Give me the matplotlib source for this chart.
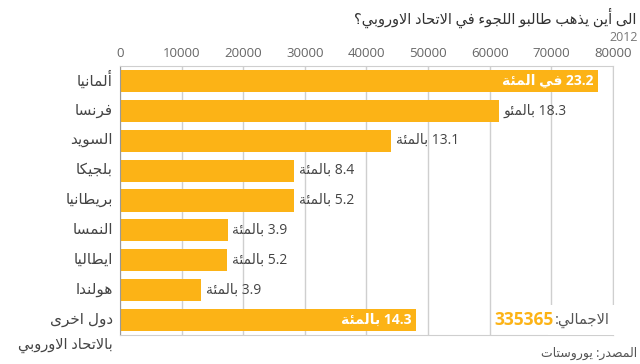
import matplotlib
matplotlib.use('Agg')
import matplotlib.pyplot as plt
from matplotlib import transforms

plt.rcParams['font.family'] = ['Open Sans', 'DejaVu Sans']

# data
countries = ['ألمانيا', 'فرنسا', 'السويد', 'بلجيكا', 'بريطانيا',
             'النمسا', 'ايطاليا', 'هولندا', 'دول اخرى']
applications = [77540, 61440, 43945, 28285, 28260, 17450, 17350, 13100, 47995]
shares = ['23.2', '18.3', '13.1', '8.4', '5.2', '3.9', '5.2', '3.9', '14.3']
share_words = ['في المئة', 'بالمئو', 'بالمئة', 'بالمئة', 'بالمئة',
               'بالمئة', 'بالمئة', 'بالمئة', 'بالمئة']
xticks = [0, 10000, 20000, 30000, 40000, 50000, 60000, 70000, 80000]
total = '335365'

title = 'الى أين يذهب طالبو اللجوء في الاتحاد الاوروبي؟'
subtitle = '2012'
source = 'المصدر: يوروستات'
others_line2 = 'بالاتحاد الاوروبي'
total_word = 'الاجمالي:'

# matplotlib has no arabic shaping -> map letters to presentation forms
# (isolated, final, initial, medial) and reverse to visual order
FORMS = {
    0x0621: [0xFE80],
    0x0623: [0xFE83, 0xFE84],
    0x0626: [0xFE89, 0xFE8A, 0xFE8B, 0xFE8C],
    0x0627: [0xFE8D, 0xFE8E],
    0x0628: [0xFE8F, 0xFE90, 0xFE91, 0xFE92],
    0x0629: [0xFE93, 0xFE94],
    0x062A: [0xFE95, 0xFE96, 0xFE97, 0xFE98],
    0x062C: [0xFE9D, 0xFE9E, 0xFE9F, 0xFEA0],
    0x062D: [0xFEA1, 0xFEA2, 0xFEA3, 0xFEA4],
    0x062E: [0xFEA5, 0xFEA6, 0xFEA7, 0xFEA8],
    0x062F: [0xFEA9, 0xFEAA],
    0x0630: [0xFEAB, 0xFEAC],
    0x0631: [0xFEAD, 0xFEAE],
    0x0633: [0xFEB1, 0xFEB2, 0xFEB3, 0xFEB4],
    0x0635: [0xFEB9, 0xFEBA, 0xFEBB, 0xFEBC],
    0x0637: [0xFEC1, 0xFEC2, 0xFEC3, 0xFEC4],
    0x0641: [0xFED1, 0xFED2, 0xFED3, 0xFED4],
    0x0643: [0xFED9, 0xFEDA, 0xFEDB, 0xFEDC],
    0x0644: [0xFEDD, 0xFEDE, 0xFEDF, 0xFEE0],
    0x0645: [0xFEE1, 0xFEE2, 0xFEE3, 0xFEE4],
    0x0646: [0xFEE5, 0xFEE6, 0xFEE7, 0xFEE8],
    0x0647: [0xFEE9, 0xFEEA, 0xFEEB, 0xFEEC],
    0x0648: [0xFEED, 0xFEEE],
    0x0649: [0xFEEF, 0xFEF0],
    0x064A: [0xFEF1, 0xFEF2, 0xFEF3, 0xFEF4],
}
LAM_ALEF = {0x0627: [0xFEFB, 0xFEFC], 0x0623: [0xFEF7, 0xFEF8]}


def ar(text):
    cps = [ord(c) for c in text]
    toks = []
    i = 0
    while i < len(cps):
        if cps[i] == 0x0644 and i + 1 < len(cps) and cps[i + 1] in LAM_ALEF:
            toks.append(('la', cps[i + 1]))
            i += 2
        else:
            toks.append(('c', cps[i]))
            i += 1

    def fwd(t):
        return t[0] == 'c' and len(FORMS.get(t[1], [])) == 4

    def back(t):
        return t[0] == 'la' or len(FORMS.get(t[1], [])) >= 2

    out = []
    for k, t in enumerate(toks):
        prev = k > 0 and fwd(toks[k - 1]) and back(t)
        if t[0] == 'la':
            out.append(chr(LAM_ALEF[t[1]][1 if prev else 0]))
            continue
        forms = FORMS.get(t[1])
        if forms is None:
            out.append(chr(t[1]))
            continue
        nxt = k + 1 < len(toks) and fwd(t) and back(toks[k + 1])
        if len(forms) == 4:
            idx = 3 if (prev and nxt) else 1 if prev else 2 if nxt else 0
        elif len(forms) == 2:
            idx = 1 if prev else 0
        else:
            idx = 0
        out.append(chr(forms[idx]))
    return ''.join(reversed(out))


orange = '#FCB316'
grid_c = '#cfcfcf'

fig = plt.figure(figsize=(6.4, 3.64), dpi=100)
ax = fig.add_axes([0.1875, 0.0797, 0.7703, 0.739])

y = list(range(len(countries)))
ax.barh(y, applications, height=0.74, color=orange, zorder=2)
ax.set_xlim(0, 80000)
ax.set_ylim(8.5, -0.5)

ax.set_xticks(xticks)
ax.xaxis.tick_top()
ax.tick_params(axis='x', length=0, pad=4, labelsize=9.5, labelcolor='#666')
ax.set_yticks([])
ax.grid(axis='x', color=grid_c, lw=1, zorder=0)
for s in ['top', 'right', 'bottom']:
    ax.spines[s].set_color(grid_c)
ax.spines['left'].set_color('#999')

lab_tr = transforms.blended_transform_factory(ax.transAxes, ax.transData)
for i, name in enumerate(countries):
    ax.text(-0.014, i, ar(name), transform=lab_tr, ha='right', va='center',
            fontsize=11, color='#444')
ax.text(-0.014, 8.85, ar(others_line2), transform=lab_tr, ha='right',
        va='center', fontsize=10.5, color='#444', clip_on=False)

# arabic reads right to left: word on the left, number on the right
for i, v in enumerate(applications):
    label = ar(share_words[i]) + ' ' + shares[i]
    if i == 0 or i == len(applications) - 1:
        ax.text(v - 700, i, label, ha='right', va='center', fontsize=10,
                color='white', fontweight='bold', zorder=3)
    else:
        ax.text(v + 800, i, label, ha='left', va='center', fontsize=10,
                color='#444', zorder=3)

t = ax.text(0.994, 8, ar(total_word), transform=lab_tr, ha='right',
            va='center', fontsize=10.5, color='#555', zorder=3,
            bbox=dict(fc='white', ec='none', pad=5))
ax.annotate(total, xy=(0, 0.5), xycoords=t, xytext=(-1, 0),
            textcoords='offset points', ha='right', va='center',
            fontsize=12.5, fontweight='bold', color=orange, zorder=4)

fig.text(0.994, 0.95, ar(title), ha='right', va='center', fontsize=10.5,
         color='#333')
fig.text(0.996, 0.898, subtitle, ha='right', va='center', fontsize=9,
         color='#777')
fig.text(0.996, 0.028, ar(source), ha='right', va='center', fontsize=9,
         color='#555')

fig.savefig('out.png', dpi=100)
